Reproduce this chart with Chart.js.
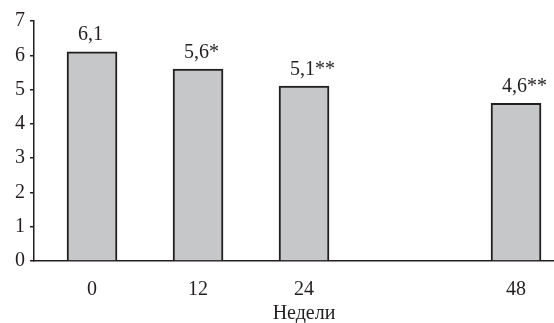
<!DOCTYPE html>
<html>
<head>
<meta charset="utf-8">
<script src="https://cdn.jsdelivr.net/npm/chart.js@4/dist/chart.umd.min.js"></script>
<style>
  html, body { margin: 0; padding: 0; background: #fff; }
  #wrap { width: 554px; height: 323px; }
</style>
</head>
<body>
<div id="wrap"><canvas id="c" width="554" height="323"></canvas></div>
<script>
// Weeks of treatment and the mean value at each visit
const weeks = [0, 12, 24, 48];
const values = [6.1, 5.6, 5.1, 4.6];
// Significance marks shown after each value
const marks = ['', '*', '**', '**'];
const yTicks = [0, 1, 2, 3, 4, 5, 6, 7];
const xTitle = 'Недели';

const INK = '#231f20';
const FONT = '"Liberation Serif", "DejaVu Serif", serif';
const FSIZE = 20;

const valueLabels = {
  id: 'valueLabels',
  afterDatasetsDraw(chart) {
    const ctx = chart.ctx;
    const meta = chart.getDatasetMeta(0);
    ctx.save();
    ctx.font = FSIZE + 'px ' + FONT;
    ctx.fillStyle = INK;
    ctx.textAlign = 'left';
    ctx.textBaseline = 'alphabetic';
    meta.data.forEach((bar, i) => {
      const txt = values[i].toFixed(1).replace('.', ',') + marks[i];
      ctx.fillText(txt, bar.x - 14, bar.y - 11.5);
    });
    ctx.restore();
  }
};

const axisTitle = {
  id: 'axisTitle',
  afterDraw(chart) {
    const xs = chart.scales.x;
    const ctx = chart.ctx;
    const cx = (xs.getPixelForValue(weeks[0]) + xs.getPixelForValue(weeks[weeks.length - 1])) / 2;
    ctx.save();
    ctx.font = FSIZE + 'px ' + FONT;
    ctx.fillStyle = INK;
    ctx.textAlign = 'center';
    ctx.textBaseline = 'middle';
    ctx.fillText(xTitle, cx, 314);
    ctx.restore();
  }
};

new Chart(document.getElementById('c'), {
  type: 'bar',
  data: {
    datasets: [{
      data: weeks.map((w, i) => ({ x: w, y: values[i] })),
      backgroundColor: '#c6c7c8',
      borderColor: INK,
      borderWidth: 2,
      borderSkipped: 'bottom',
      barThickness: 50
    }]
  },
  options: {
    responsive: false,
    animation: false,
    devicePixelRatio: 1,
    layout: { padding: { top: 21, right: 0, left: 0, bottom: 0 } },
    plugins: { legend: { display: false }, tooltip: { enabled: false } },
    scales: {
      x: {
        type: 'linear',
        offset: false,
        min: -6.57,
        max: 52.3,
        afterBuildTicks(scale) { scale.ticks = weeks.map(v => ({ value: v })); },
        afterFit(scale) { scale.height = 62; },
        grid: { display: false, drawTicks: false, offset: false },
        border: { display: true, color: INK, width: 1.5 },
        ticks: {
          color: INK,
          font: { family: FONT, size: FSIZE },
          padding: 17,
          autoSkip: false,
          maxRotation: 0,
          callback: v => String(v)
        }
      },
      y: {
        min: 0,
        max: 7,
        afterBuildTicks(scale) { scale.ticks = yTicks.map(v => ({ value: v })); },
        afterFit(scale) { scale.width = 34; },
        grid: { drawOnChartArea: false, drawTicks: true, tickLength: 4, color: INK, lineWidth: 1.5 },
        border: { display: true, color: INK, width: 1.5 },
        ticks: {
          color: INK,
          font: { family: FONT, size: FSIZE },
          padding: 5
        }
      }
    }
  },
  plugins: [valueLabels, axisTitle]
});
</script>
</body>
</html>
